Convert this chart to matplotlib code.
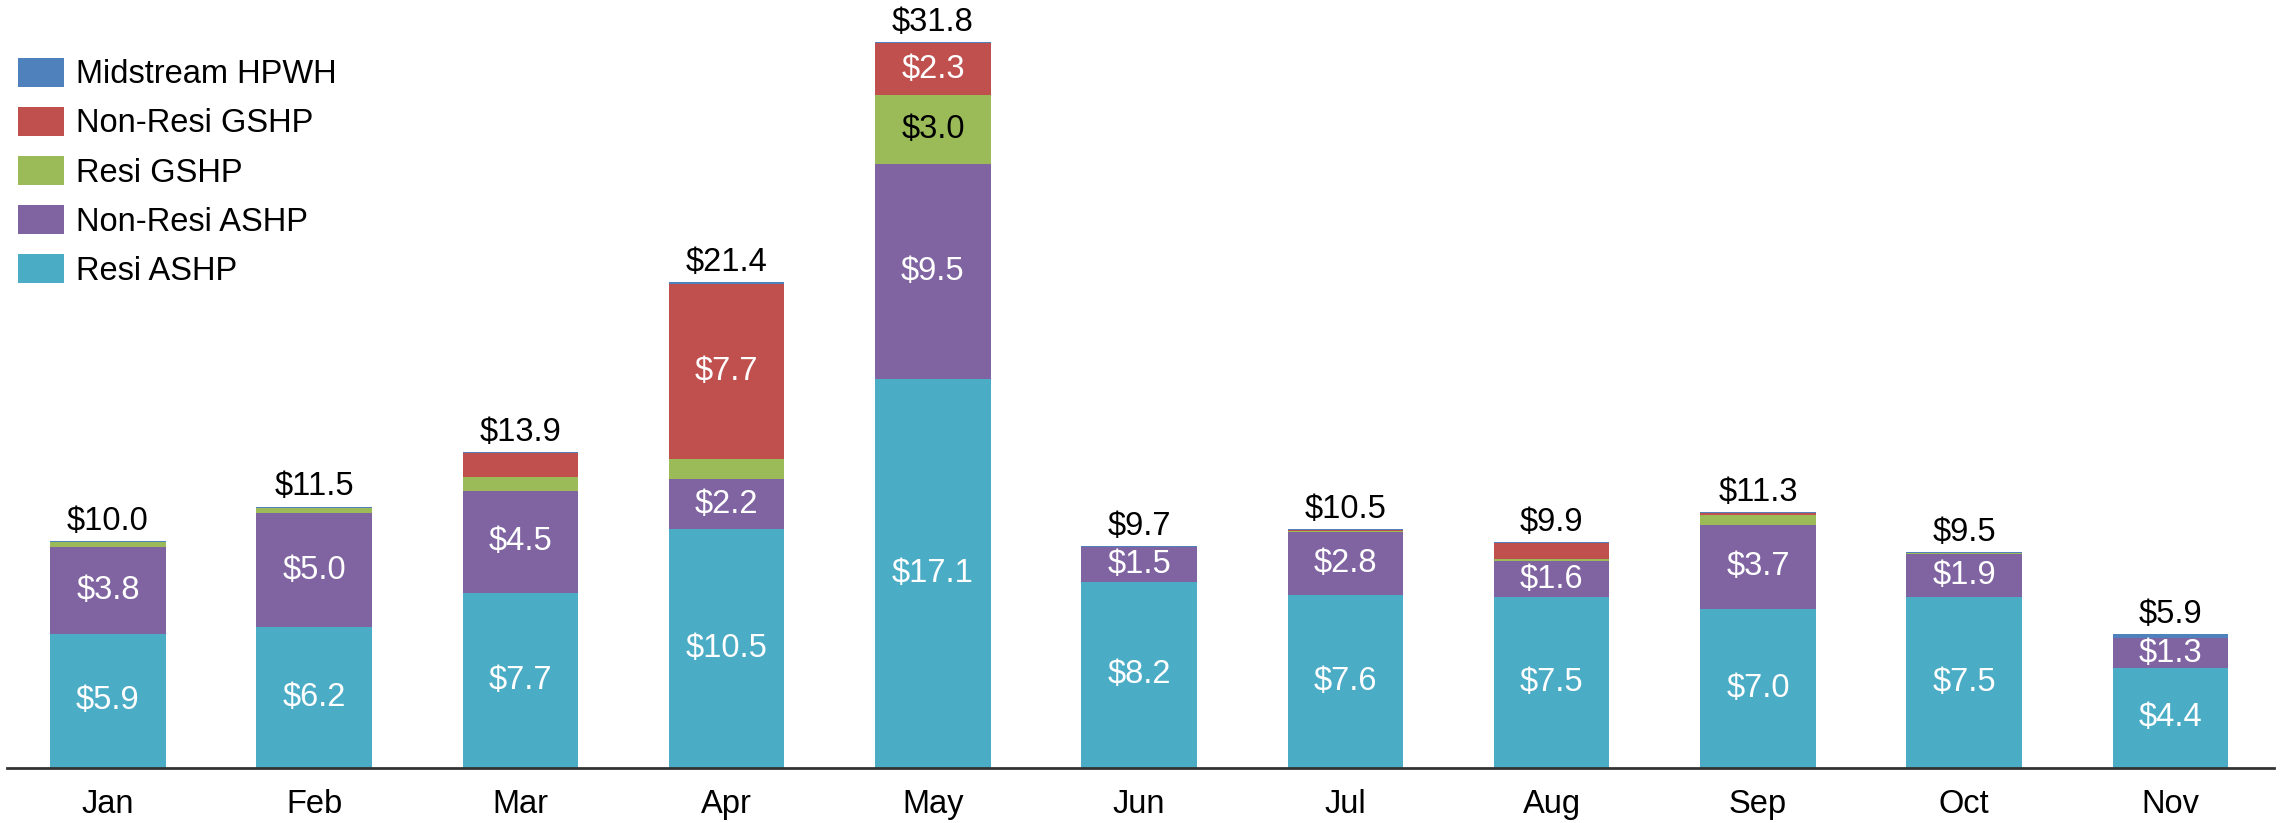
import numpy as np
import matplotlib.pyplot as plt
from matplotlib.patches import Patch

plt.rcParams['font.family'] = ['Liberation Sans', 'DejaVu Sans']

# data ($M)
months = ['Jan', 'Feb', 'Mar', 'Apr', 'May', 'Jun', 'Jul', 'Aug', 'Sep', 'Oct', 'Nov']
resi_ashp = [5.9, 6.2, 7.7, 10.5, 17.1, 8.2, 7.6, 7.5, 7.0, 7.5, 4.4]
nonresi_ashp = [3.8, 5.0, 4.5, 2.2, 9.5, 1.5, 2.8, 1.6, 3.7, 1.9, 1.3]
resi_gshp = [0.22, 0.26, 0.62, 0.9, 3.0, 0.0, 0.03, 0.1, 0.45, 0.06, 0.0]
nonresi_gshp = [0.0, 0.0, 1.06, 7.7, 2.3, 0.04, 0.05, 0.68, 0.05, 0.0, 0.0]
midstream = [0.05, 0.04, 0.02, 0.1, 0.05, 0.04, 0.03, 0.04, 0.05, 0.04, 0.18]
totals = [10.0, 11.5, 13.9, 21.4, 31.8, 9.7, 10.5, 9.9, 11.3, 9.5, 5.9]

series = [
    ('Resi ASHP', resi_ashp, '#4BACC6', 'white'),
    ('Non-Resi ASHP', nonresi_ashp, '#8064A2', 'white'),
    ('Resi GSHP', resi_gshp, '#9BBB59', 'black'),
    ('Non-Resi GSHP', nonresi_gshp, '#C0504D', 'white'),
    ('Midstream HPWH', midstream, '#4F81BD', 'white'),
]

FS = 23.5
MIN_LABEL = 1.2

fig = plt.figure(figsize=(22.85, 8.23), dpi=100)
ax = fig.add_axes([0.003, 0.067, 0.992, 0.933])

x = np.arange(len(months))
bottom = np.zeros(len(months))
handles = []
for name, vals, col, tcol in series:
    vals = np.array(vals)
    ax.bar(x, vals, 0.56, bottom=bottom, color=col, edgecolor='none')
    for xi, v, b in zip(x, vals, bottom):
        if v >= MIN_LABEL:
            ax.text(xi, b + v / 2, f'${v:.1f}', ha='center', va='center',
                    color=tcol, fontsize=FS)
    bottom += vals
    handles.append(Patch(facecolor=col, label=name))

tops = bottom
for xi, t, lab in zip(x, tops, totals):
    ax.annotate(f'${lab:.1f}', (xi, t), xytext=(0, 3), textcoords='offset points',
                ha='center', va='bottom', fontsize=FS)

ax.set_xlim(-0.49, 10.5)
ax.set_ylim(0, 33.8)
ax.set_xticks(x)
ax.set_xticklabels(months, fontsize=FS)
ax.tick_params(axis='x', length=0, pad=15)
ax.set_yticks([])
for s in ['top', 'right', 'left']:
    ax.spines[s].set_visible(False)
ax.spines['bottom'].set_linewidth(2)
ax.spines['bottom'].set_color('#333333')

leg = ax.legend(handles=handles[::-1], loc='upper left', bbox_to_anchor=(0.005, 0.925),
                frameon=False, fontsize=FS, handlelength=1.41, handleheight=1.0,
                handletextpad=0.37, labelspacing=0.5, borderaxespad=0, borderpad=0)

fig.savefig('out.png', dpi=100)
